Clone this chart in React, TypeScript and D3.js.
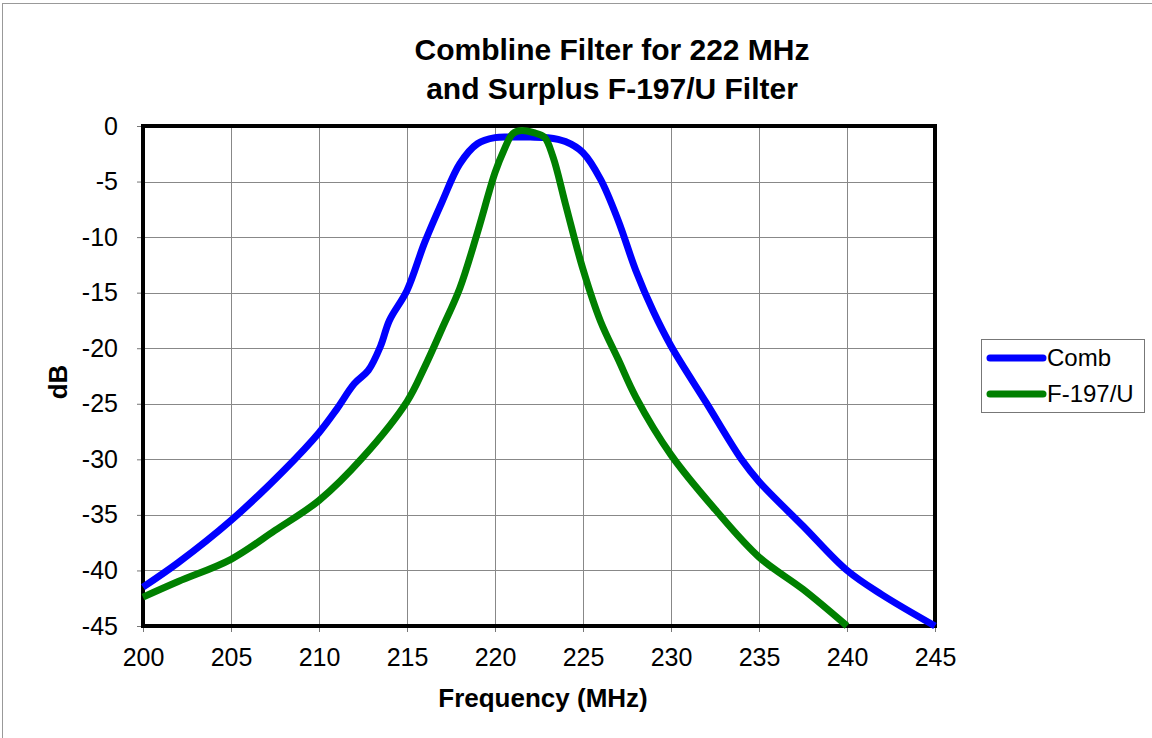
import React, { useEffect, useRef } from 'react';
import * as d3 from 'd3';

// Comb filter response (MHz, dB)
const combFreq = [200, 202, 205, 208, 210, 211, 212, 212.8, 213.5, 214, 215, 216, 217, 218, 219, 220, 221, 222, 223, 224, 225, 226, 227, 228, 229, 230, 232, 234, 235, 237.5, 240, 242, 245];
const combDb = [-41.5, -39.3, -35.5, -31, -27.6, -25.5, -23.2, -22, -19.8, -17.5, -14.8, -10.5, -6.8, -3.4, -1.6, -1.05, -1.0, -1.0, -1.05, -1.4, -2.4, -4.8, -8.5, -13.0, -16.7, -19.8, -24.9, -30, -32, -36, -40, -42.2, -45];

// Surplus F-197/U response (MHz, dB)
const f197Freq = [200, 202, 205, 207.5, 210, 212.5, 215, 216, 217, 218, 219, 220, 220.5, 221, 221.5, 222.2, 222.8, 223.3, 224, 225, 226, 227, 228, 230, 232.5, 235, 237.5, 240];
const f197Db = [-42.4, -41, -39, -36.4, -33.7, -29.8, -24.8, -21.7, -18.2, -14.6, -9.6, -4.2, -2.2, -0.7, -0.4, -0.6, -1.0, -2.8, -7.0, -12.9, -17.6, -21, -24.4, -29.6, -34.5, -38.8, -41.7, -45];

const xTicks = [200, 205, 210, 215, 220, 225, 230, 235, 240, 245];
const yTicks = [0, -5, -10, -15, -20, -25, -30, -35, -40, -45];

const seriesNames = ['Comb', 'F-197/U'];
const seriesColors = ['#0000ff', '#008000'];

export default function App() {
  const ref = useRef<SVGSVGElement>(null);

  useEffect(() => {
    if (!ref.current) return;
    const svg = d3.select(ref.current);
    svg.selectAll('*').remove();

    const width = 1152;
    const height = 738;
    const left = 143, right = 935, top = 126, bottom = 626;
    const font = 'Liberation Sans, Arial, sans-serif';

    const x = d3.scaleLinear().domain([200, 245]).range([left, right]);
    const y = d3.scaleLinear().domain([-45, 0]).range([bottom, top]);

    svg.append('rect').attr('width', width).attr('height', height).attr('fill', 'white');
    svg.append('rect')
      .attr('x', 2.5).attr('y', 3.5)
      .attr('width', width + 20).attr('height', height + 20)
      .attr('fill', 'none').attr('stroke', '#999').attr('stroke-width', 1);

    // Title
    const title = svg.append('text')
      .attr('text-anchor', 'middle')
      .style('font-family', font)
      .style('font-weight', 'bold')
      .style('font-size', '30px');
    title.append('tspan').attr('x', 612).attr('y', 60).text('Combline Filter for 222 MHz');
    title.append('tspan').attr('x', 612).attr('y', 99).text('and Surplus F-197/U Filter');

    // grid
    const grid = svg.append('g').attr('stroke', '#888').attr('stroke-width', 1);
    xTicks.slice(1, -1).forEach(t => {
      grid.append('line').attr('x1', Math.round(x(t)) + 0.5).attr('x2', Math.round(x(t)) + 0.5)
        .attr('y1', top).attr('y2', bottom);
    });
    yTicks.slice(1, -1).forEach(t => {
      grid.append('line').attr('y1', Math.round(y(t)) + 0.5).attr('y2', Math.round(y(t)) + 0.5)
        .attr('x1', left).attr('x2', right);
    });

    // axes ticks + labels
    const xAxis = d3.axisBottom(x).tickValues(xTicks).tickSize(6).tickPadding(16).tickFormat(d => String(d));
    const gx = svg.append('g').attr('transform', `translate(0,${bottom})`).call(xAxis);
    gx.select('.domain').remove();
    gx.selectAll('line').attr('stroke', '#777');
    gx.selectAll('text').style('font-family', font).style('font-size', '25px').attr('fill', 'black');

    const yAxis = d3.axisLeft(y).tickValues(yTicks).tickSize(6).tickPadding(19).tickFormat(d => String(d));
    const gy = svg.append('g').attr('transform', `translate(${left},0)`).call(yAxis);
    gy.select('.domain').remove();
    gy.selectAll('line').attr('stroke', '#777');
    gy.selectAll('text').style('font-family', font).style('font-size', '25px').attr('fill', 'black');

    // series
    const line = d3.line<[number, number]>()
      .x(d => x(d[0])).y(d => y(d[1]))
      .curve(d3.curveCatmullRom.alpha(0.5));

    const series: [number, number][][] = [
      combFreq.map((f, i) => [f, combDb[i]]),
      f197Freq.map((f, i) => [f, f197Db[i]]),
    ];

    const clip = svg.append('defs').append('clipPath').attr('id', 'plotclip');
    clip.append('rect').attr('x', left - 4).attr('y', top - 4).attr('width', right - left + 8).attr('height', bottom - top + 8);

    // frame
    svg.append('rect')
      .attr('x', left).attr('y', top).attr('width', right - left).attr('height', bottom - top)
      .attr('fill', 'none').attr('stroke', 'black').attr('stroke-width', 4);

    series.forEach((s, i) => {
      svg.append('path')
        .datum(s)
        .attr('clip-path', 'url(#plotclip)')
        .attr('d', line)
        .attr('fill', 'none')
        .attr('stroke', seriesColors[i])
        .attr('stroke-width', 7)
        .attr('stroke-linejoin', 'round');
    });

    // axis titles
    svg.append('text')
      .attr('x', 543).attr('y', 707)
      .attr('text-anchor', 'middle')
      .style('font-family', font).style('font-weight', 'bold').style('font-size', '26px')
      .text('Frequency (MHz)');
    svg.append('text')
      .attr('transform', `translate(67,382) rotate(-90)`)
      .attr('text-anchor', 'middle')
      .style('font-family', font).style('font-weight', 'bold').style('font-size', '26px')
      .text('dB');

    // legend
    const lg = svg.append('g');
    lg.append('rect').attr('x', 981.5).attr('y', 339.5).attr('width', 163).attr('height', 73)
      .attr('fill', 'white').attr('stroke', '#777').attr('stroke-width', 1);
    seriesNames.forEach((name, i) => {
      const ly = 358 + i * 36;
      lg.append('line').attr('x1', 990).attr('x2', 1043).attr('y1', ly).attr('y2', ly)
        .attr('stroke', seriesColors[i]).attr('stroke-width', 7).attr('stroke-linecap', 'round');
      lg.append('text').attr('x', 1047).attr('y', ly + 8)
        .style('font-family', font).style('font-size', '24px').text(name);
    });
  }, []);

  return (
    <svg ref={ref} width={1152} height={738}
      style={{ position: 'absolute', left: 0, top: 0, display: 'block' }} />
  );
}
